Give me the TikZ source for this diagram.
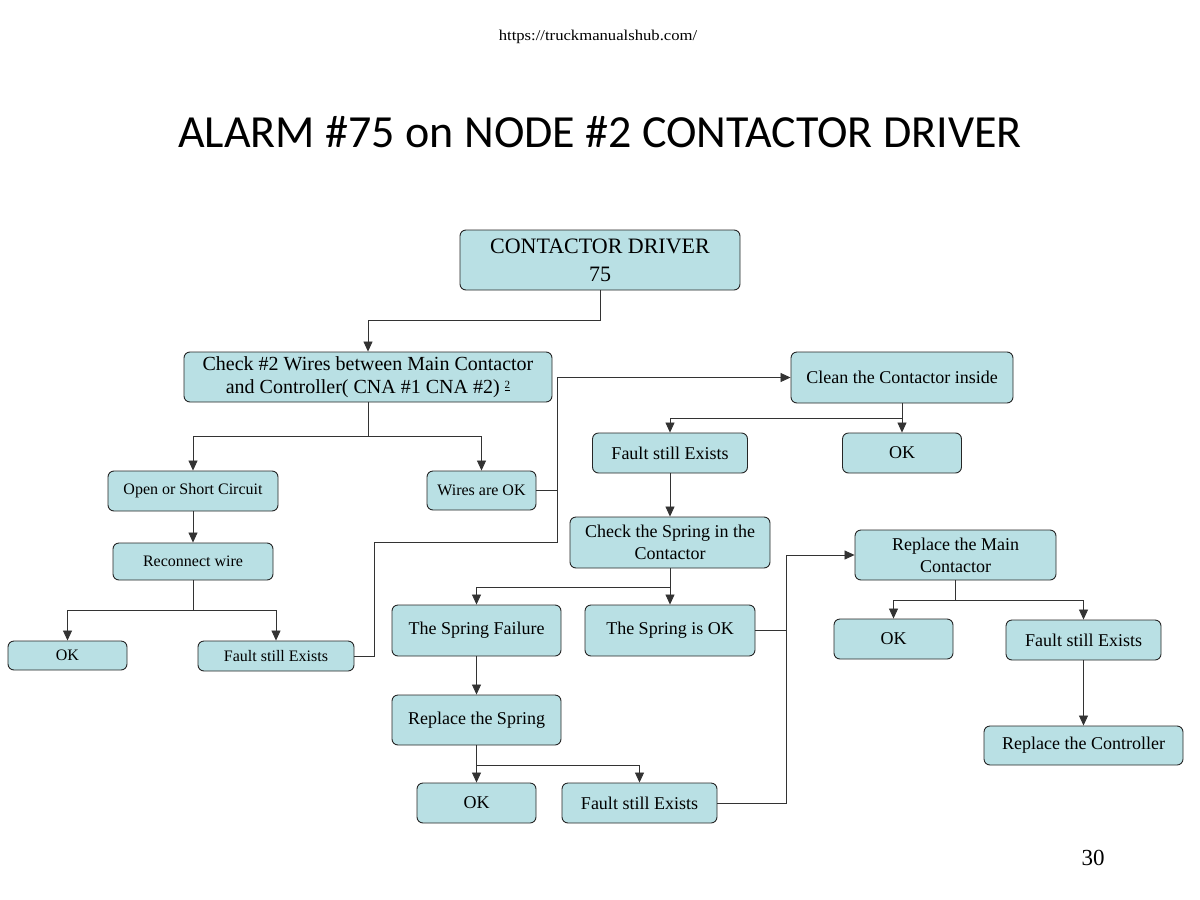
\documentclass[tikz,border=0pt]{standalone}
\usepackage{fontspec}
\setmainfont{Liberation Serif}
\newfontfamily\titlefont{Carlito}
\usetikzlibrary{arrows.meta}
\definecolor{boxblue}{RGB}{185,224,228}
\begin{document}
\begin{tikzpicture}[x=1pt,y=-1pt,
  box/.style={draw=black!85, fill=boxblue, rounded corners=6pt, line width=0.9pt, align=center, inner sep=0pt, font=\fontsize{18}{22}\selectfont},
  smallbox/.style={box, font=\fontsize{16}{19}\selectfont},
  link/.style={draw=black!80, line width=0.8pt},
  arr/.style={link, -{Triangle[length=10pt,width=9pt]}}]
\useasboundingbox (0,0) rectangle (1200,900);

% header texts
\node[font=\fontsize{15}{15}\selectfont] (url) at (598,37) {\scalebox{1.11}[1]{https://truckmanualshub.com/}};
\node[font=\titlefont\fontsize{46}{46}\selectfont] (title) at (600,132) {ALARM \#75 on NODE \#2 CONTACTOR DRIVER};
\node[font=\fontsize{23}{23}\selectfont] (page) at (1093,858) {30};

% nodes
\node[box, minimum width=280pt, minimum height=60pt, font=\fontsize{22}{28}\selectfont] (top) at (600,260) {CONTACTOR DRIVER\\75};
\node[box, minimum width=368pt, minimum height=50pt, font=\fontsize{20}{23}\selectfont] (check) at (368,377) {Check \#2 Wires between Main Contactor\\and Controller( CNA \#1 CNA \#2) {\fontsize{11}{11}\selectfont\raisebox{5pt}{\underline{2}}}};
\node[smallbox, minimum width=170pt, minimum height=40pt] (open) at (193,491) {Open or Short Circuit};
\node[smallbox, minimum width=109pt, minimum height=39pt] (wires) at (481.5,490.5) {Wires are OK};
\node[smallbox, minimum width=160pt, minimum height=37pt] (recon) at (193,561.5) {Reconnect wire};
\node[smallbox, minimum width=119pt, minimum height=29pt] (okL) at (67.5,655.5) {OK};
\node[smallbox, minimum width=156pt, minimum height=30pt] (faultL) at (276,656) {Fault still Exists};

\node[box, minimum width=222pt, minimum height=51pt] (clean) at (902,377.5) {Clean the Contactor inside};
\node[box, minimum width=155pt, minimum height=40pt] (faultM) at (670,453) {Fault still Exists};
\node[box, minimum width=119pt, minimum height=40pt] (okTR) at (902,453) {OK};
\node[box, minimum width=200pt, minimum height=51pt] (spring) at (670,542.5) {Check the Spring in the\\Contactor};
\node[box, minimum width=169pt, minimum height=51pt] (sfail) at (476.5,630.5) {The Spring Failure};
\node[box, minimum width=170pt, minimum height=51pt] (sok) at (670,630.5) {The Spring is OK};
\node[box, minimum width=169pt, minimum height=50pt] (rspring) at (476.5,720) {Replace the Spring};
\node[box, minimum width=119pt, minimum height=40pt] (okB) at (476.5,803) {OK};
\node[box, minimum width=155pt, minimum height=40pt] (faultB) at (639.5,803) {Fault still Exists};

\node[box, minimum width=201pt, minimum height=50pt] (rmain) at (955.5,555) {Replace the Main\\Contactor};
\node[box, minimum width=119pt, minimum height=40pt] (okR) at (893.5,639) {OK};
\node[box, minimum width=155pt, minimum height=40pt] (faultR) at (1083.5,640) {Fault still Exists};
\node[box, minimum width=199pt, minimum height=39pt] (rctrl) at (1083.5,745.5) {Replace the Controller};

% junction coordinates
\coordinate (ja) at (374,542);
\coordinate (jb) at (557,542);
\coordinate (jc) at (786,555);

% connectors
\draw[arr] (top.south) -- ++(0,30) -| (check.north);

\draw[link] (check.south) -- ++(0,34) coordinate (c1);
\draw[arr] (c1) -| (open.north);
\draw[arr] (c1) -| (wires.north);

\draw[arr] (open.south) -- (recon.north);

\draw[link] (recon.south) -- ++(0,30) coordinate (c2);
\draw[arr] (c2) -| (okL.north);
\draw[arr] (c2) -| (faultL.north);

\draw[arr] (faultL.east) -| (ja) -- (jb) |- (clean.west);
\draw[link] (wires.east) -- (wires.east -| jb);

\draw[link] (clean.south) -- ++(0,15) coordinate (c3);
\draw[arr] (c3) -| (faultM.north);
\draw[arr] (c3) -- (okTR.north);

\draw[arr] (faultM.south) -- (spring.north);

\draw[link] (spring.south) -- ++(0,19) coordinate (c4);
\draw[arr] (c4) -| (sfail.north);
\draw[arr] (c4) -- (sok.north);

\draw[arr] (sfail.south) -- (rspring.north);

\draw[link] (rspring.south) -- ++(0,20) coordinate (c5);
\draw[arr] (c5) -- (okB.north);
\draw[arr] (c5) -| (faultB.north);

\draw[arr] (faultB.east) -| (jc) -- (rmain.west);
\draw[link] (sok.east) -- (sok.east -| jc);

\draw[link] (rmain.south) -- ++(0,20) coordinate (c6);
\draw[arr] (c6) -| (okR.north);
\draw[arr] (c6) -| (faultR.north);

\draw[arr] (faultR.south) -- (rctrl.north);
\end{tikzpicture}
\end{document}
